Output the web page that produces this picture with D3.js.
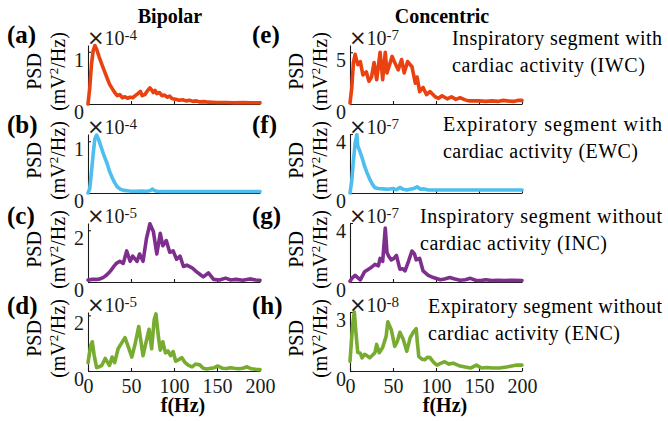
<!DOCTYPE html>
<html>
<head>
<meta charset="utf-8">
<script src="https://cdn.jsdelivr.net/npm/d3@7"></script>
<style>
  body { margin: 0; background: #fff; }
  #chart text { font-family: "Liberation Serif", "Times New Roman", serif; }
  #chart text tspan.times { font-family: "DejaVu Sans", sans-serif; }
</style>
</head>
<body>
<svg id="chart" width="668" height="421"></svg>
<script>
// frequencies (Hz) and PSD values per panel, in the units of each panel's x10^n label
var fA = [0,2,4,6,8,10,13,17,21,25,28,31,34,37,40,43,46,49,52,55,58,61,63,66,69,72,74,76,78,80,83,86,89,92,95,98,102,106,110,114,118,122,126,130,135,140,150,160,170,180,190,200];
var psdA = [0,0.3,0.75,1.02,1.12,1.05,0.9,0.72,0.55,0.38,0.3,0.22,0.16,0.18,0.12,0.14,0.11,0.13,0.12,0.16,0.2,0.24,0.16,0.18,0.25,0.31,0.27,0.22,0.26,0.2,0.22,0.16,0.17,0.13,0.15,0.1,0.09,0.07,0.08,0.06,0.07,0.05,0.06,0.04,0.045,0.035,0.03,0.03,0.025,0.03,0.025,0.025];

var fB = [0,2,4,6,8,10,12,15,18,22,25,28,31,34,38,42,48,55,62,68,72,75,77,80,86,95,110,130,150,170,190,200];
var psdB = [0,0.08,0.4,0.75,1.05,1.12,1.05,0.9,0.75,0.58,0.42,0.3,0.2,0.12,0.07,0.05,0.04,0.035,0.04,0.035,0.045,0.075,0.05,0.035,0.03,0.03,0.03,0.03,0.03,0.03,0.03,0.03];

var fC = [0,5,10,14,18,22,26,30,33,37,41,45,49,52,57,60,64,68,72,76,80,84,87,91,95,99,103,107,111,115,121,126,130,134,140,146,153,160,166,172,180,188,195,200];
var psdC = [0.08,0.1,0.1,0.12,0.18,0.28,0.42,0.6,0.72,0.8,0.72,1.2,0.8,1.0,0.8,1.08,0.8,1.68,2.25,1.95,1.08,1.88,1.4,1.6,1.15,1.2,0.88,1.0,0.6,0.65,0.55,0.4,0.3,0.2,0.35,0.1,0.08,0.15,0.08,0.1,0.07,0.12,0.08,0.07];

var fD = [0,3,5,7,10,13,16,20,25,28,31,35,39,43,46,51,55,59,64,68,71,74,77,79,82,84,87,90,93,96,99,102,105,109,113,117,121,125,130,134,138,143,147,151,156,161,166,170,175,180,185,190,195,200];
var psdD = [0.3,0.9,1.05,0.6,0.12,0.15,0.2,0.45,0.2,0.5,0.3,0.8,1.0,1.2,0.95,0.5,1.0,1.6,0.55,1.1,1.5,0.8,1.85,2.05,1.2,0.75,1.05,0.65,0.72,0.55,0.7,0.35,0.4,0.48,0.3,0.2,0.15,0.25,0.22,0.1,0.07,0.1,0.12,0.18,0.1,0.09,0.12,0.1,0.08,0.1,0.15,0.08,0.06,0.05];

var fE = [0,2,4,6,9,12,15,19,22,25,28,31,35,38,41,43,46,49,52,56,60,63,67,72,76,78,81,85,89,93,99,103,107,113,118,123,128,134,138,143,150,158,165,172,178,183,190,195,200];
var psdE = [0.1,1.5,4.0,4.8,3.8,4.1,2.8,3.1,2.2,2.6,4.0,2.35,5.0,2.35,5.0,3.0,3.8,4.6,4.0,3.3,4.3,3.0,4.1,3.6,2.0,2.6,1.2,1.6,0.9,1.2,0.7,0.55,0.8,0.5,0.7,0.45,0.6,0.4,0.3,0.3,0.3,0.25,0.3,0.25,0.35,0.3,0.25,0.35,0.35];

var fF = [0,2,4,6,8,9,11,14,17,20,23,26,29,33,38,44,50,54,58,62,66,70,74,78,82,86,91,100,120,140,160,180,200];
var psdF = [0,0.8,2.2,3.4,3.95,3.2,2.9,2.4,1.8,1.35,0.93,0.6,0.36,0.3,0.28,0.25,0.3,0.22,0.38,0.25,0.2,0.25,0.3,0.42,0.25,0.28,0.2,0.2,0.2,0.2,0.2,0.2,0.2];

var fG = [0,3,6,9,12,17,21,25,29,33,35,38,41,43,45,48,51,54,58,61,64,68,72,75,77,81,85,91,97,105,110,116,122,128,134,140,146,152,158,165,172,180,190,200];
var psdG = [0.05,0.3,0.45,0.3,0.15,0.7,0.85,1.0,1.2,1.1,1.6,1.4,3.65,2.0,1.75,1.5,1.6,1.8,0.87,0.9,0.75,1.4,2.1,1.9,1.5,1.6,0.75,0.45,0.3,0.15,0.2,0.3,0.2,0.12,0.15,0.25,0.12,0.1,0.15,0.1,0.12,0.1,0.12,0.1];

var fH = [0,3,5,7,9,12,14,17,19,23,26,29,31,34,38,42,44,46,48,52,55,58,62,66,70,74,77,78,80,84,87,90,93,97,101,106,110,115,120,128,134,140,147,153,159,166,174,182,188,194,200];
var psdH = [0.5,2.3,3.0,1.9,0.95,0.9,0.67,0.85,0.8,0.67,0.8,0.93,1.35,0.93,1.2,1.76,2.5,2.3,2.1,1.25,1.5,1.97,1.6,1.0,1.7,2.0,2.15,1.6,0.73,0.6,0.57,0.7,0.68,0.45,0.3,0.4,0.47,0.35,0.4,0.25,0.2,0.15,0.3,0.15,0.18,0.15,0.15,0.2,0.25,0.3,0.3];

var panelLabels = ["(a)","(b)","(c)","(d)","(e)","(f)","(g)","(h)"];
var yTopTick = [1,1,2,2,5,4,4,3];
var yLimit = [1.13,1.14,2.28,2.12,5.7,4.0,4.0,3.0];
var exponents = ["-4","-4","-5","-5","-7","-7","-7","-8"];
var xTicks = [0,50,100,150,200];
var columnTitles = ["Bipolar","Concentric"];
var rowColors = ["#e9410f","#4dbeee","#7e2f8e","#77ac30"];
var notes = [
  ["Inspiratory segment with","cardiac activity (IWC)"],
  ["Expiratory segment with","cardiac activity (EWC)"],
  ["Inspiratory segment without","cardiac activity (INC)"],
  ["Expiratory segment without","cardiac activity (ENC)"]
];

var series = [[fA,psdA],[fB,psdB],[fC,psdC],[fD,psdD],[fE,psdE],[fF,psdF],[fG,psdG],[fH,psdH]];

var svg = d3.select("#chart");
var colX = [88, 350];
var plotW = 172, plotH = 59;
var axisColor = "#1a1a1a";

function rowTop(r) { return 45 + r * 89; }

// column titles
columnTitles.forEach(function(t, c){
  svg.append("text")
    .attr("x", colX[c] + plotW / 2 - 4 + c * 10)
    .attr("y", 23)
    .attr("text-anchor", "middle")
    .attr("font-weight", "bold")
    .attr("font-size", 20)
    .text(t);
});

series.forEach(function(s, i){
  var col = Math.floor(i / 4), row = i % 4;
  var x0 = colX[col], y0 = rowTop(row);

  var x = d3.scaleLinear().domain([0, 200]).range([0, plotW]);
  var y = d3.scaleLinear().domain([0, yLimit[i]]).range([plotH, 0]);

  var g = svg.append("g").attr("transform", "translate(" + x0 + "," + y0 + ")");

  var xAxis = d3.axisBottom(x).tickValues(xTicks)
    .tickSizeInner(-3).tickSizeOuter(0).tickPadding(8)
    .tickFormat(row == 3 ? d3.format("d") : function(){ return ""; });
  var yAxis = d3.axisLeft(y).tickValues([0, yTopTick[i]])
    .tickSizeInner(-3).tickSizeOuter(0).tickPadding(4)
    .tickFormat(d3.format("d"));

  var gx = g.append("g").attr("transform", "translate(0," + plotH + ")").call(xAxis);
  var gy = g.append("g").call(yAxis);
  [gx, gy].forEach(function(a){
    a.attr("font-family", null).attr("font-size", 20);
    a.selectAll("path, line").attr("stroke", axisColor).attr("stroke-width", 1.1);
    a.selectAll("text").attr("fill", axisColor);
  });
  // MATLAB-like: y labels hang below their tick
  gy.selectAll("text").attr("dy", "0.72em");

  var line = d3.line()
    .x(function(d){ return x(d[0]); })
    .y(function(d){ return y(d[1]); });

  g.append("path")
    .datum(d3.zip(s[0], s[1]))
    .attr("fill", "none")
    .attr("stroke", rowColors[row])
    .attr("stroke-width", 3.6)
    .attr("stroke-linejoin", "round")
    .attr("stroke-linecap", "round")
    .attr("d", line);

  // exponent label
  var ex = g.append("text").attr("x", -1).attr("y", 0).attr("fill", axisColor);
  ex.append("tspan").attr("class", "times").attr("font-size", 21).text("\u00d7");
  ex.append("tspan").attr("font-size", 20).text("10");
  ex.append("tspan").attr("font-size", 15).attr("dy", -5).text(exponents[i]);

  // y axis label
  g.append("text")
    .attr("transform", "translate(-47," + (plotH / 2 - 3) + ") rotate(-90)")
    .attr("text-anchor", "middle")
    .attr("font-size", 20)
    .text("PSD");
  var yl = g.append("text")
    .attr("transform", "translate(-23," + (plotH / 2 - 3) + ") rotate(-90)")
    .attr("text-anchor", "middle")
    .attr("font-size", 20);
  yl.append("tspan").text("(mV");
  yl.append("tspan").attr("font-size", 13).attr("dy", -7).text("2");
  yl.append("tspan").attr("dy", 7).text("/Hz)");

  // panel letter
  svg.append("text")
    .attr("x", col == 0 ? 7 : 252)
    .attr("y", 43 + row * 90.3)
    .attr("font-weight", "bold")
    .attr("font-size", 25)
    .text(panelLabels[i]);

  if (row == 3) {
    g.append("text")
      .attr("x", plotW / 2 + 9)
      .attr("y", plotH + 41)
      .attr("text-anchor", "middle")
      .attr("font-weight", "bold")
      .attr("font-size", 20)
      .text("f(Hz)");
  }
});

// segment descriptions on the right
var noteX = [452, 443, 420, 428];
var noteBase = [45, 131, 223, 313];
var secondLineW = [193, 195, 187, 192];
notes.forEach(function(lines, r){
  svg.append("text")
    .attr("x", noteX[r]).attr("y", noteBase[r])
    .attr("font-size", 20)
    .attr("textLength", 662 - noteX[r])
    .attr("lengthAdjust", "spacing")
    .text(lines[0]);
  svg.append("text")
    .attr("x", noteX[r]).attr("y", noteBase[r] + 27)
    .attr("font-size", 20)
    .attr("textLength", secondLineW[r])
    .attr("lengthAdjust", "spacing")
    .text(lines[1]);
});
</script>
</body>
</html>
